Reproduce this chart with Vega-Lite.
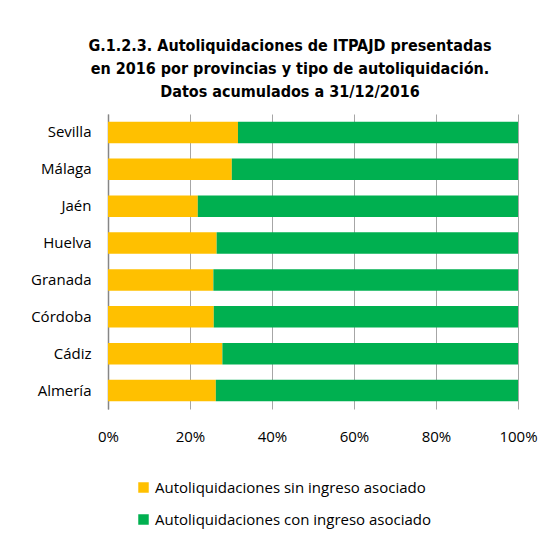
{
  "$schema": "https://vega.github.io/schema/vega-lite/v6.json",
  "width": 410,
  "height": 295,
  "autosize": {"type": "none"},
  "padding": {"left": 108, "top": 114, "right": 27, "bottom": 129},
  "background": "white",
  "title": {
    "text": ["G.1.2.3. Autoliquidaciones de ITPAJD presentadas", "en 2016 por provincias y tipo de autoliquidación.", "Datos acumulados a 31/12/2016"],
    "font": "DejaVu Sans Condensed",
    "fontSize": 16,
    "fontWeight": "bold",
    "color": "#000000",
    "anchor": "middle",
    "dx": -23,
    "offset": 14,
    "lineHeight": 23
  },
  "data": {
    "values": [
      {"provincia": "Sevilla", "tipo": "Autoliquidaciones sin ingreso asociado", "valor": 31.7},
      {"provincia": "Sevilla", "tipo": "Autoliquidaciones con ingreso asociado", "valor": 68.3},
      {"provincia": "Málaga", "tipo": "Autoliquidaciones sin ingreso asociado", "valor": 30.2},
      {"provincia": "Málaga", "tipo": "Autoliquidaciones con ingreso asociado", "valor": 69.8},
      {"provincia": "Jaén", "tipo": "Autoliquidaciones sin ingreso asociado", "valor": 21.9},
      {"provincia": "Jaén", "tipo": "Autoliquidaciones con ingreso asociado", "valor": 78.1},
      {"provincia": "Huelva", "tipo": "Autoliquidaciones sin ingreso asociado", "valor": 26.5},
      {"provincia": "Huelva", "tipo": "Autoliquidaciones con ingreso asociado", "valor": 73.5},
      {"provincia": "Granada", "tipo": "Autoliquidaciones sin ingreso asociado", "valor": 25.7},
      {"provincia": "Granada", "tipo": "Autoliquidaciones con ingreso asociado", "valor": 74.3},
      {"provincia": "Córdoba", "tipo": "Autoliquidaciones sin ingreso asociado", "valor": 25.8},
      {"provincia": "Córdoba", "tipo": "Autoliquidaciones con ingreso asociado", "valor": 74.2},
      {"provincia": "Cádiz", "tipo": "Autoliquidaciones sin ingreso asociado", "valor": 27.9},
      {"provincia": "Cádiz", "tipo": "Autoliquidaciones con ingreso asociado", "valor": 72.1},
      {"provincia": "Almería", "tipo": "Autoliquidaciones sin ingreso asociado", "valor": 26.3},
      {"provincia": "Almería", "tipo": "Autoliquidaciones con ingreso asociado", "valor": 73.7}
    ]
  },
  "mark": {"type": "bar"},
  "encoding": {
    "y": {
      "field": "provincia",
      "type": "nominal",
      "sort": ["Sevilla", "Málaga", "Jaén", "Huelva", "Granada", "Córdoba", "Cádiz", "Almería"],
      "scale": {"paddingInner": 0.42, "paddingOuter": 0.21},
      "axis": {
        "title": null,
        "ticks": false,
        "domain": true,
        "domainColor": "#868686",
        "domainWidth": 1.5,
        "labelFont": "Open Sans",
        "labelFontSize": 15,
        "labelColor": "#000000",
        "labelPadding": 17
      }
    },
    "x": {
      "field": "valor",
      "type": "quantitative",
      "stack": "normalize",
      "scale": {"domain": [0, 1], "nice": false},
      "axis": {
        "title": null,
        "format": ".0%",
        "values": [0, 0.2, 0.4, 0.6, 0.8, 1],
        "domain": false,
        "ticks": false,
        "grid": true,
        "gridColor": "#A6A6A6",
        "gridWidth": 1,
        "labelFont": "Open Sans",
        "labelFontSize": 15,
        "labelColor": "#000000",
        "labelPadding": 20,
        "labelFlush": false
      }
    },
    "color": {
      "field": "tipo",
      "type": "nominal",
      "scale": {
        "domain": ["Autoliquidaciones sin ingreso asociado", "Autoliquidaciones con ingreso asociado"],
        "range": ["#FFC000", "#00B050"]
      },
      "legend": {
        "title": null,
        "orient": "none",
        "legendX": 28,
        "legendY": 366,
        "direction": "vertical",
        "symbolType": "square",
        "symbolSize": 110,
        "symbolStrokeWidth": 0,
        "symbolOpacity": 1,
        "labelFont": "Open Sans",
        "labelFontSize": 15,
        "labelColor": "#000000",
        "rowPadding": 16,
        "labelOffset": 4,
        "labelLimit": 400
      }
    },
    "order": {"field": "tipo", "sort": "descending"}
  },
  "config": {"view": {"stroke": null}}
}
